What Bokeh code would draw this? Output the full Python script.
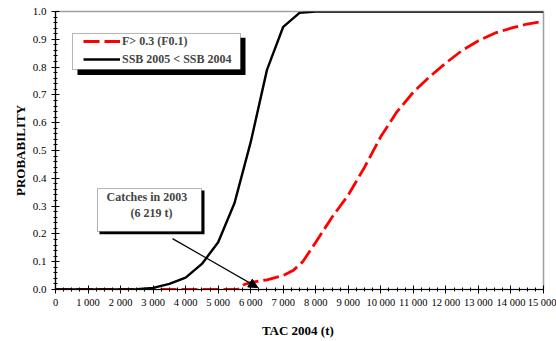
from bokeh.plotting import figure
from bokeh.models import (Range1d, SingleIntervalTicker, Legend, LegendItem,
                          BoxAnnotation, Label, Arrow, NormalHead)
from bokeh.embed import file_html
from bokeh.resources import INLINE

# ---- data ----
tac_ssb = [0, 1000, 2000, 2500, 3000, 3500, 4000, 4500, 5000, 5500, 6000, 6500,
           7000, 7500, 8000, 9000, 10000, 11000, 12000, 13000, 14000, 15000]
p_ssb = [0.0, 0.0, 0.0, 0.001, 0.006, 0.02, 0.043, 0.092, 0.17, 0.31, 0.53, 0.79,
         0.945, 0.995, 1.0, 1.0, 1.0, 1.0, 1.0, 1.0, 1.0, 1.0]

tac_f = [0, 1000, 2000, 3000, 4000, 5000, 5600, 5800, 6000, 6500, 7000, 7300, 7600,
         8000, 8500, 9000, 9500, 10000, 10500, 11000, 11500, 12000, 12500, 13000,
         13500, 14000, 14500, 15000]
p_f = [0.0, 0.0, 0.0, 0.0, 0.0, 0.0, 0.0, 0.018, 0.025, 0.035, 0.05, 0.068, 0.1,
       0.17, 0.26, 0.34, 0.44, 0.55, 0.64, 0.71, 0.765, 0.815, 0.86, 0.895,
       0.922, 0.94, 0.955, 0.965]

catch_2003 = 6219

x_ticks = list(range(0, 15001, 1000))
x_tick_labels = ["0", "1 000", "2 000", "3 000", "4 000", "5 000", "6 000", "7 000",
                 "8 000", "9 000", "10 000", "11 000", "12 000", "13 000", "14 000",
                 "15 000"]
y_ticks = [i / 10 for i in range(11)]
y_tick_labels = ["%.1f" % v for v in y_ticks]

FONT = "Liberation Serif"

p = figure(width=556, height=341, output_backend="svg", toolbar_location=None,
           x_range=Range1d(0, 15000), y_range=Range1d(0, 1.0),
           min_border_left=55, min_border_right=13, min_border_top=11,
           min_border_bottom=52)
p.background_fill_color = "white"
p.border_fill_color = "white"
p.outline_line_color = "#a0a0a0"
p.outline_line_width = 1.5
p.xgrid.visible = False
p.ygrid.visible = False

# axes
xa = p.xaxis[0]
xa.ticker = SingleIntervalTicker(interval=1000, num_minor_ticks=4)
xa.major_label_overrides = {t: l for t, l in zip(x_ticks, x_tick_labels)}
ya = p.yaxis[0]
ya.ticker = SingleIntervalTicker(interval=0.1, num_minor_ticks=5)
ya.major_label_overrides = {t: l for t, l in zip(y_ticks, y_tick_labels)}
for ax in (xa, ya):
    ax.axis_line_color = "black"
    ax.axis_line_width = 1.2
    ax.major_tick_line_color = "black"
    ax.minor_tick_line_color = "black"
    ax.major_tick_in = 4
    ax.major_tick_out = 4
    ax.minor_tick_in = 2
    ax.minor_tick_out = 2
    ax.major_label_text_font = FONT
    ax.major_label_text_color = "black"
    ax.axis_label_text_font = FONT
    ax.axis_label_text_font_style = "bold"
    ax.axis_label_text_font_size = "13px"
    ax.axis_label_text_color = "black"
xa.major_label_text_font_size = "10.5px"
ya.major_label_text_font_size = "11px"
xa.major_label_standoff = 3
ya.major_label_standoff = 5
xa.axis_label = "TAC  2004 (t)"
ya.axis_label = "PROBABILITY"
xa.axis_label_standoff = 12
ya.axis_label_standoff = 2

# curves
r_f = p.line(tac_f, p_f, line_color="red", line_width=2.8, line_dash="16 5")
r_ssb = p.line(tac_ssb, p_ssb, line_color="black", line_width=2.4)

# legend box (shadow + white box) and legend entries
p.add_layout(BoxAnnotation(left=676, right=5840, bottom=0.772, top=0.906,
                           fill_color="black", fill_alpha=1, line_alpha=0,
                           level="overlay"))
p.add_layout(BoxAnnotation(left=522, right=5686, bottom=0.791, top=0.921,
                           fill_color="white", fill_alpha=1, line_color="black",
                           line_width=1, level="overlay"))
legend = Legend(items=[LegendItem(label="F> 0.3 (F0.1)", renderers=[r_f]),
                       LegendItem(label="SSB 2005 < SSB 2004", renderers=[r_ssb])],
                location=(18, 212), orientation="vertical",
                border_line_alpha=0, background_fill_alpha=0,
                label_text_font=FONT, label_text_font_style="bold",
                label_text_font_size="12px", glyph_width=37, glyph_height=16,
                label_height=16, spacing=2, padding=10, margin=0,
                label_standoff=2)
p.add_layout(legend, "center")

# catches annotation box with shadow
p.add_layout(BoxAnnotation(left=1352, right=4580, bottom=0.199, top=0.356,
                           fill_color="black", fill_alpha=1, line_alpha=0,
                           level="overlay"))
p.add_layout(BoxAnnotation(left=1291, right=4488, bottom=0.209, top=0.363,
                           fill_color="white", fill_alpha=1, line_color="black",
                           line_width=1, level="overlay"))
p.add_layout(Label(x=1568, y=0.333, text="Catches in 2003", text_font=FONT,
                   text_font_style="bold", text_font_size="12px",
                   text_baseline="middle", level="overlay"))
p.add_layout(Label(x=2305, y=0.274, text="(6 219 t)", text_font=FONT,
                   text_font_style="bold", text_font_size="12px",
                   text_baseline="middle", level="overlay"))
p.add_layout(Arrow(x_start=3596, y_start=0.183, x_end=catch_2003, y_end=0.007,
                   line_color="black", line_width=1.2,
                   end=NormalHead(size=9, fill_color="black", line_color="black")))

open("out.html", "w").write(file_html(p, INLINE))
